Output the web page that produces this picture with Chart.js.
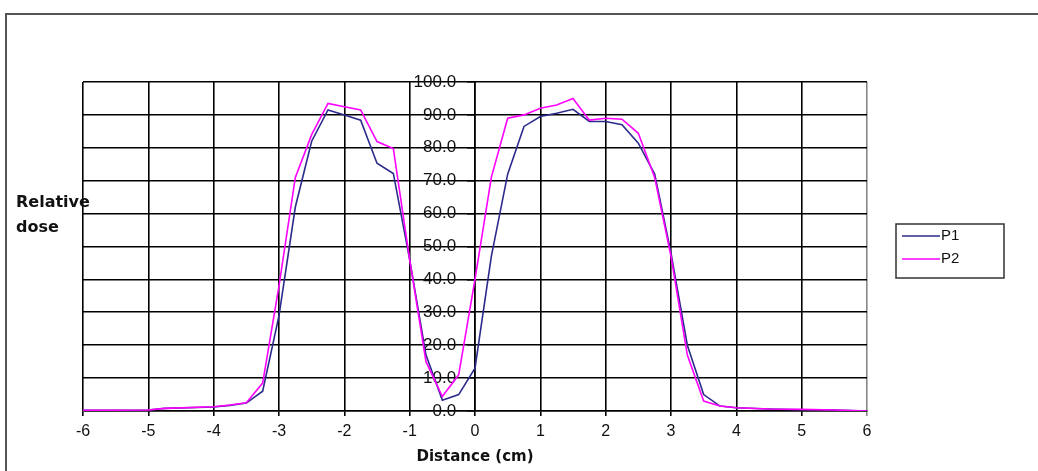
<!DOCTYPE html>
<html>
<head>
<meta charset="utf-8">
<script src="https://cdn.jsdelivr.net/npm/chart.js@4.4.1/dist/chart.umd.min.js"></script>
<style>
  body { margin: 0; background: #fff; overflow: hidden; }
  #wrap { position: absolute; left: 0; top: 0; width: 1038px; height: 471px; }
  #frame { position: absolute; left: 5px; top: 13px; width: 1100px; height: 600px;
           border-left: 2px solid #555; border-top: 2px solid #555; }
  #ytitle { position: absolute; left: 16px; top: 189px; font: bold 16px "DejaVu Sans", sans-serif;
            line-height: 25px; color: #111; }
</style>
</head>
<body>
<div id="frame"></div>
<div id="wrap"><canvas id="chart" width="1038" height="471"></canvas></div>
<div id="ytitle">Relative<br>dose</div>
<script>
// distance (cm) of each sample
var distance = [-6, -5, -4.75, -4, -3.75, -3.5, -3.25, -3, -2.75, -2.5, -2.25, -2,
  -1.75, -1.5, -1.25, -1, -0.75, -0.5, -0.25, 0, 0.25, 0.5, 0.75, 1,
  1.25, 1.5, 1.75, 2, 2.25, 2.5, 2.75, 3, 3.25, 3.5, 3.75, 4, 4.5, 5, 5.5, 6];

var p1 = [0.2, 0.3, 0.8, 1.2, 1.7, 2.4, 6, 29, 62, 82, 91.5, 90,
  88.4, 75.3, 72.2, 46, 17, 3.3, 5, 13, 47, 72, 86.5, 89.5,
  90.5, 91.7, 88, 88, 87, 81.4, 72, 48, 20, 5, 1.5, 1, 0.6, 0.4, 0.3, 0];

var p2 = [0.2, 0.3, 0.8, 1.3, 1.8, 2.5, 8.5, 38, 71, 84, 93.5, 92.5,
  91.5, 81.9, 79.8, 46, 15, 4.4, 11, 40, 71, 89, 90, 92,
  93, 95, 88.4, 89, 88.7, 84.4, 71, 47, 17, 3, 1.5, 1, 0.6, 0.5, 0.3, 0];

var seriesNames = ["P1", "P2"];
var seriesColors = ["#2b2b8c", "#ff00ff"];

function pts(ys) {
  return distance.map(function (x, i) { return { x: x, y: ys[i] }; });
}

// legend box drawn by hand, Excel style
var boxLegend = {
  id: 'boxLegend',
  afterDraw: function (chart) {
    var c = chart.ctx;
    c.save();
    c.strokeStyle = '#333';
    c.lineWidth = 1.5;
    c.strokeRect(896, 224, 108, 54);
    c.font = '15px "Liberation Sans", Arial, sans-serif';
    c.textBaseline = 'middle';
    c.fillStyle = '#111';
    for (var i = 0; i < seriesNames.length; i++) {
      var y = 236 + i * 23;
      c.strokeStyle = seriesColors[i];
      c.lineWidth = 1.5;
      c.beginPath();
      c.moveTo(902, y);
      c.lineTo(940, y);
      c.stroke();
      c.fillText(seriesNames[i], 941, y);
    }
    c.restore();
  }
};

new Chart(document.getElementById('chart'), {
  type: 'scatter',
  data: {
    datasets: [
      { label: seriesNames[0], data: pts(p1), showLine: true, borderColor: seriesColors[0],
        borderWidth: 1.6, pointRadius: 0, order: 1 },
      { label: seriesNames[1], data: pts(p2), showLine: true, borderColor: seriesColors[1],
        borderWidth: 1.6, pointRadius: 0, order: 0 }
    ]
  },
  options: {
    responsive: false,
    animation: false,
    layout: { padding: { left: 83, right: 171, top: 82, bottom: 0 } },
    plugins: { legend: { display: false }, tooltip: { enabled: false } },
    scales: {
      x: {
        type: 'linear',
        min: -6, max: 6,
        afterFit: function (s) { s.height = 60; },
        ticks: { stepSize: 1, color: '#111', padding: 6,
                 font: { family: '"Liberation Sans", Arial, sans-serif', size: 16 } },
        grid: { color: function (ctx) { return ctx.tick && ctx.tick.value === 6 ? '#888' : '#000'; },
                lineWidth: 1.6, tickLength: 5 },
        border: { color: '#000', width: 1.6 },
        title: { display: true, text: 'Distance (cm)', color: '#111',
                 font: { family: '"DejaVu Sans", sans-serif', size: 15, weight: 'bold' },
                 padding: { top: 0, bottom: 5 } }
      },
      y: {
        type: 'linear',
        position: { x: 0 },
        min: 0, max: 100,
        ticks: { stepSize: 10, color: '#111',
                 font: { family: '"Liberation Sans", Arial, sans-serif', size: 17 },
                 // axis sits inside the plot, so pad the label off the axis line
                 callback: function (v) { return v.toFixed(1) + '    '; } },
        grid: { color: '#000', lineWidth: 1.6, tickLength: 7 },
        border: { color: '#000', width: 1.6 }
      }
    }
  },
  plugins: [boxLegend]
});
</script>
</body>
</html>
